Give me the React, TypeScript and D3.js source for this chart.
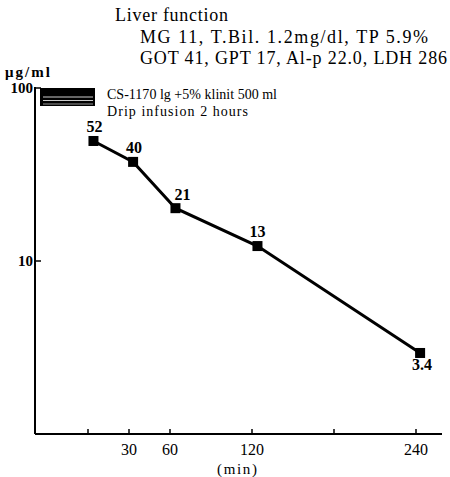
import React from "react";
import * as d3 from "d3";

const times = [4, 33, 64, 124, 243];
const values = [49.4, 37.4, 20.2, 12.2, 2.94];
const pointLabels = ["52", "40", "21", "13", "3.4"];
const xTicks = [0, 30, 60, 120, 180, 240];
const xTickLabels = ["", "30", "60", "120", "", "240"];
const yTicks = [100, 10];
const headerLines = [
  "Liver function",
  "MG 11, T.Bil. 1.2mg/dl, TP 5.9%",
  "GOT 41, GPT 17, Al-p 22.0, LDH 286",
];
const legendLines = ["CS-1170 lg +5% klinit 500 ml", "Drip infusion 2 hours"];

const W = 450;
const H = 477;
const FONT = "'Liberation Serif', 'DejaVu Serif', serif";

export default function App() {
  const x = d3.scaleLinear().domain([0, 240]).range([88, 416]);
  const y = d3.scaleLog().domain([1, 100]).range([434, 88]);
  const x0 = 35;
  const x1 = 442;
  const line = d3
    .line<number>()
    .x((_, i) => x(times[i]))
    .y((d) => y(d));

  const labelOffsets = [
    [1, -9],
    [1, -9],
    [7, -8],
    [0, -9],
    [2, 17],
  ];

  return (
    <svg
      width={W}
      height={H}
      style={{ position: "absolute", left: 0, top: 0, background: "#fff" }}
      fontFamily={FONT}
    >
      {/* header */}
      <text x={115} y={21} fontSize={18} textLength={113} lengthAdjust="spacing">
        {headerLines[0]}
      </text>
      <text x={140} y={43} fontSize={18} textLength={288} lengthAdjust="spacing">
        {headerLines[1]}
      </text>
      <text x={140} y={64} fontSize={18} textLength={307} lengthAdjust="spacing">
        {headerLines[2]}
      </text>

      {/* y label */}
      <text x={5} y={77} fontSize={15} fontWeight="bold" textLength={45} lengthAdjust="spacing">
        μg/ml
      </text>

      {/* axes */}
      <line x1={x0} x2={x0} y1={y(100) - 1} y2={y(1)} stroke="#000" strokeWidth={2} />
      <line x1={x0} x2={x1} y1={y(1)} y2={y(1)} stroke="#000" strokeWidth={2} />
      {yTicks.map((t) => (
        <g key={t}>
          <line x1={x0} x2={x0 + 6} y1={y(t)} y2={y(t)} stroke="#000" strokeWidth={1.5} />
          <text x={x0 - 2} y={y(t) + 5} fontSize={15} fontWeight="bold" textAnchor="end">
            {t}
          </text>
        </g>
      ))}
      {xTicks.map((t, i) => (
        <g key={t}>
          <line x1={x(t)} x2={x(t)} y1={y(1)} y2={y(1) - 5} stroke="#000" strokeWidth={1.5} />
          <text x={x(t)} y={455} fontSize={16} textAnchor="middle">
            {xTickLabels[i]}
          </text>
        </g>
      ))}
      <text x={237} y={474} fontSize={15} textAnchor="middle" textLength={40} lengthAdjust="spacing">
        (min)
      </text>

      {/* infusion bar */}
      <rect x={40} y={88} width={55} height={18} fill="#000" />
      <line x1={43} x2={93} y1={97} y2={97} stroke="#fff" strokeWidth={0.8} />
      <line x1={43} x2={93} y1={100.5} y2={100.5} stroke="#fff" strokeWidth={0.8} />
      <line x1={43} x2={93} y1={104} y2={104} stroke="#fff" strokeWidth={0.6} />
      <text x={107} y={99} fontSize={14} textLength={170} lengthAdjust="spacing">
        {legendLines[0]}
      </text>
      <text x={107} y={116} fontSize={14} textLength={141} lengthAdjust="spacing">
        {legendLines[1]}
      </text>

      {/* data */}
      <path d={line(values) || ""} fill="none" stroke="#000" strokeWidth={3} />
      {values.map((v, i) => (
        <g key={i}>
          <rect x={x(times[i]) - 5} y={y(v) - 5} width={10} height={10} fill="#000" />
          <text
            x={x(times[i]) + labelOffsets[i][0]}
            y={y(v) + labelOffsets[i][1]}
            fontSize={16}
            fontWeight="bold"
            textAnchor="middle"
          >
            {pointLabels[i]}
          </text>
        </g>
      ))}
    </svg>
  );
}
